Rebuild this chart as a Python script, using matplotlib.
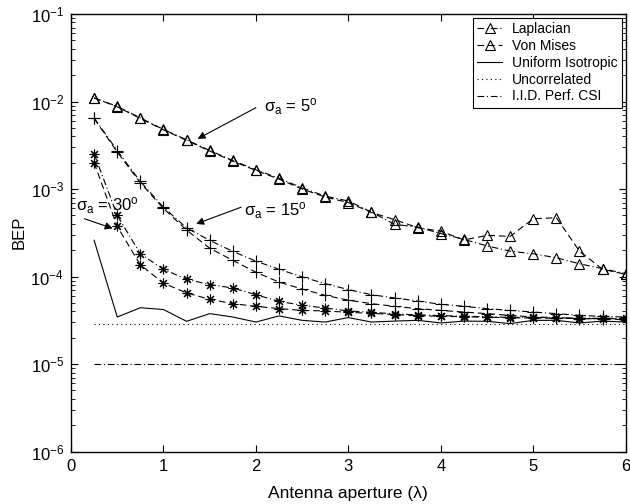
import matplotlib
matplotlib.use("Agg")
import matplotlib.pyplot as plt
from matplotlib.lines import Line2D

plt.rcParams['font.family'] = ['Liberation Sans', 'DejaVu Sans']
plt.rcParams['mathtext.fontset'] = 'custom'
plt.rcParams['mathtext.rm'] = 'Liberation Sans'
plt.rcParams['mathtext.it'] = 'Liberation Sans:italic'
plt.rcParams['mathtext.default'] = 'regular'

aperture = [0.25, 0.5, 0.75, 1.0, 1.25, 1.5, 1.75, 2.0, 2.25, 2.5, 2.75, 3.0,
            3.25, 3.5, 3.75, 4.0, 4.25, 4.5, 4.75, 5.0, 5.25, 5.5, 5.75, 6.0]

# sigma_a = 5 deg
lap5 = [1.1e-2, 8.8e-3, 6.5e-3, 4.8e-3, 3.65e-3, 2.76e-3, 2.12e-3, 1.66e-3, 1.33e-3, 1.03e-3, 8.3e-4, 7.3e-4,
        5.45e-4, 3.95e-4, 3.67e-4, 3.1e-4, 2.66e-4, 2.24e-4, 1.95e-4, 1.82e-4, 1.64e-4, 1.4e-4, 1.23e-4, 1.08e-4]
vm5 = [1.1e-2, 8.7e-3, 6.4e-3, 4.75e-3, 3.6e-3, 2.72e-3, 2.08e-3, 1.63e-3, 1.3e-3, 1.0e-3, 8.1e-4, 7.0e-4,
       5.4e-4, 4.47e-4, 3.62e-4, 3.3e-4, 2.62e-4, 2.95e-4, 2.88e-4, 4.57e-4, 4.7e-4, 1.95e-4, 1.21e-4, 1.06e-4]

# sigma_a = 15 deg
lap15 = [6.5e-3, 2.75e-3, 1.22e-3, 6.2e-4, 3.6e-4, 2.59e-4, 1.94e-4, 1.5e-4, 1.21e-4, 9.9e-5, 8.3e-5, 7.1e-5,
         6.2e-5, 5.7e-5, 5.25e-5, 4.82e-5, 4.57e-5, 4.3e-5, 4.1e-5, 3.93e-5, 3.77e-5, 3.6e-5, 3.5e-5, 3.45e-5]
vm15 = [6.4e-3, 2.65e-3, 1.18e-3, 6.0e-4, 3.4e-4, 2.11e-4, 1.53e-4, 1.12e-4, 8.65e-5, 7.2e-5, 6.1e-5, 5.37e-5,
        4.9e-5, 4.57e-5, 4.3e-5, 4.1e-5, 3.93e-5, 3.77e-5, 3.6e-5, 3.45e-5, 3.4e-5, 3.3e-5, 3.3e-5, 3.2e-5]

# sigma_a = 30 deg
lap30 = [2.53e-3, 5.0e-4, 1.82e-4, 1.21e-4, 9.3e-5, 8.1e-5, 7.4e-5, 6.2e-5, 5.2e-5, 4.7e-5, 4.37e-5, 4.05e-5,
         3.9e-5, 3.75e-5, 3.65e-5, 3.58e-5, 3.52e-5, 3.47e-5, 3.42e-5, 3.42e-5, 3.38e-5, 3.35e-5, 3.33e-5, 3.33e-5]
vm30 = [2.0e-3, 3.74e-4, 1.36e-4, 8.4e-5, 6.5e-5, 5.5e-5, 4.9e-5, 4.57e-5, 4.3e-5, 4.1e-5, 4.05e-5, 3.9e-5,
        3.8e-5, 3.68e-5, 3.57e-5, 3.52e-5, 3.47e-5, 3.43e-5, 3.38e-5, 3.36e-5, 3.34e-5, 3.31e-5, 3.3e-5, 3.3e-5]

uniform = [2.6e-4, 3.45e-5, 4.4e-5, 4.2e-5, 3.08e-5, 3.77e-5, 3.45e-5, 3.02e-5, 3.55e-5, 3.16e-5, 3.02e-5, 3.4e-5,
           3.02e-5, 3.1e-5, 3.16e-5, 2.95e-5, 3.1e-5, 3.08e-5, 2.9e-5, 3.16e-5, 3.16e-5, 2.95e-5, 3.1e-5, 3.02e-5]
uncorrelated = 2.9e-5
iid_csi = 1.0e-5

legend_labels = ['Laplacian', 'Von Mises', 'Uniform Isotropic', 'Uncorrelated', 'I.I.D. Perf. CSI']

DASH = (0, (6, 3.5))
DASHDOT = (0, (6, 2.5, 1, 2.5))
DOT = (0, (1, 3))
ASTER = (8, 2, 0)

fig = plt.figure(figsize=(6.3, 5.04), dpi=100)
ax = fig.add_axes([0.1127, 0.104, 0.8805, 0.8682])
lw = 0.8
mk = dict(markerfacecolor='none', markeredgecolor='black', markeredgewidth=0.8)

ax.plot(aperture, lap5, color='black', lw=lw, ls=DASHDOT, marker='^', ms=7, **mk)
ax.plot(aperture, vm5, color='black', lw=lw, ls=DASH, marker='^', ms=7, **mk)
ax.plot(aperture, lap15, color='black', lw=lw, ls=DASHDOT, marker='+', ms=8, **mk)
ax.plot(aperture, vm15, color='black', lw=lw, ls=DASH, marker='+', ms=8, **mk)
ax.plot(aperture, lap30, color='black', lw=lw, ls=DASHDOT, marker=ASTER, ms=7, **mk)
ax.plot(aperture, vm30, color='black', lw=lw, ls=DASH, marker=ASTER, ms=7, **mk)
ax.plot(aperture, uniform, color='black', lw=lw, ls='-')
ax.plot([aperture[0], aperture[-1]], [uncorrelated, uncorrelated], color='black', lw=lw, ls=DOT)
ax.plot([aperture[0], aperture[-1]], [iid_csi, iid_csi], color='black', lw=lw, ls=DASHDOT)

ax.set_yscale('log')
ax.set_xlim(0, 6)
ax.set_ylim(1e-6, 1e-1)
ax.set_xticks([0, 1, 2, 3, 4, 5, 6])
ax.tick_params(which='both', direction='in', top=True, right=True, labelsize=12, pad=5)
ax.tick_params(which='major', length=5, width=0.8)
ax.tick_params(which='minor', length=3, width=0.6)
for s in ax.spines.values():
    s.set_linewidth(1.0)

ax.set_xlabel('Antenna aperture (λ)', fontsize=12.5, labelpad=9)
ax.set_ylabel('BEP', fontsize=12, labelpad=3)

handles = [
    Line2D([], [], color='black', lw=lw, ls=DASHDOT, marker='^', ms=7, **mk),
    Line2D([], [], color='black', lw=lw, ls=DASH, marker='^', ms=7, **mk),
    Line2D([], [], color='black', lw=lw, ls='-'),
    Line2D([], [], color='black', lw=lw, ls=DOT),
    Line2D([], [], color='black', lw=lw, ls=DASHDOT),
]
leg = ax.legend(handles, legend_labels, loc='upper right', fontsize=10, frameon=True, fancybox=False,
                edgecolor='black', framealpha=1, handlelength=1.8, borderpad=0.3,
                labelspacing=0.2, handletextpad=0.7, borderaxespad=0.3)
leg.get_frame().set_linewidth(0.8)

arrow = dict(arrowstyle='-|>', color='black', lw=0.8, mutation_scale=11, shrinkA=0, shrinkB=0)
ax.annotate('', xy=(1.37, 3.75e-3), xytext=(2.0, 8.5e-3), arrowprops=arrow)
ax.text(2.09, 8.8e-3, r'$\sigma_a$ = 5$^o$', fontsize=12, va='center', ha='left')
ax.annotate('', xy=(1.354, 4.0e-4), xytext=(1.84, 6.2e-4), arrowprops=arrow)
ax.text(1.87, 5.6e-4, r'$\sigma_a$ = 15$^o$', fontsize=12, va='center', ha='left')
ax.annotate('', xy=(0.45, 3.55e-4), xytext=(0.145, 4.58e-4), arrowprops=arrow)
ax.text(0.05, 6.4e-4, r'$\sigma_a$ = 30$^o$', fontsize=12, va='center', ha='left')

fig.savefig('out.png', dpi=100)
